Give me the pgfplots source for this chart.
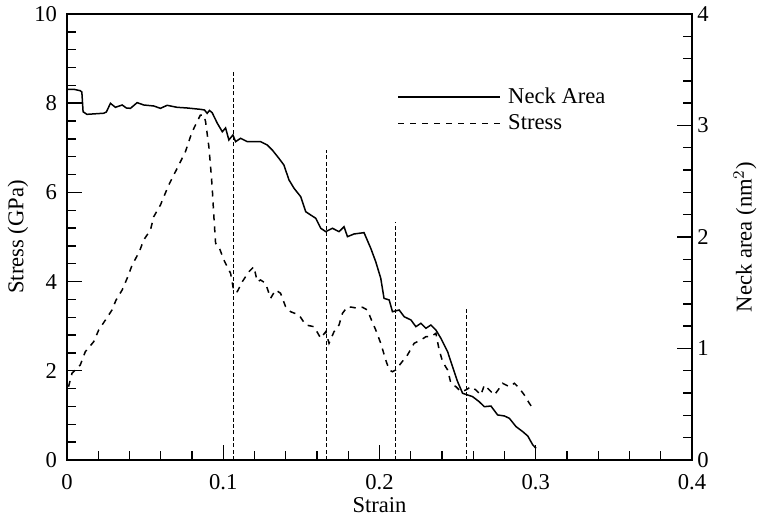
\documentclass[border=0pt]{standalone}
\usepackage{fontspec}
\setmainfont{Liberation Serif}
\usepackage{pgfplots}
\pgfplotsset{compat=1.18}
\begin{document}
\begin{tikzpicture}
\useasboundingbox (-33.5pt,-29.5pt) rectangle (345pt,230pt);
\pgfplotsset{
  common/.style={
    scale only axis, width=312.5pt, height=223pt,
    xmin=0, xmax=0.4,
    tick align=inside,
    major tick length=7.5pt, minor tick length=4.5pt,
    every tick/.style={black, line width=0.7pt},
    minor x tick num=4, minor y tick num=4,
    /pgf/number format/assume math mode=true,
    tick label style={font=\fontsize{11.3pt}{13pt}\selectfont},
    label style={font=\fontsize{11.3pt}{13pt}\selectfont},
    axis line style={line width=0.75pt},
  }
}
\begin{axis}[common,
  ymin=0, ymax=10,
  xtick={0,0.1,0.2,0.3,0.4},
  xticklabels={0,0.1,0.2,0.3,0.4},
  ytick={0,2,4,6,8,10},
  xtick pos=left, ytick pos=left,
  yticklabel style={xshift=-1.5pt},
  xticklabel style={yshift=-3.5pt},
  xlabel={Strain},
  ylabel={Stress (GPa)},
  xlabel style={at={(axis description cs:0.5,-0.1009)}, anchor=center},
  ylabel style={at={(axis description cs:-0.0784,0.5)}, anchor=center},
  legend style={draw=none, fill=none, at={(rel axis cs:0.5285,0.845)}, anchor=north west,
    inner sep=0pt, column sep=1.5pt, row sep=0.2pt,
    font=\fontsize{11.3pt}{13pt}\selectfont},
  legend cell align=left,
  legend image code/.code={\draw[#1] (0pt,0pt) -- (51pt,0pt);},
]
\addlegendimage{black, line width=0.75pt}
\addlegendentry{Neck Area}
\addplot[black, line width=0.75pt, dash pattern=on 3pt off 3pt] coordinates {
(0.0010,1.643) (0.0032,1.944) (0.0085,2.130) (0.0117,2.428) (0.0171,2.652)
(0.0203,2.915) (0.0246,3.139) (0.0288,3.363) (0.0314,3.587) (0.0353,3.812)
(0.0385,4.074) (0.0417,4.372) (0.0463,4.670) (0.0491,4.933) (0.0534,5.157)
(0.0555,5.455) (0.0598,5.717) (0.0651,6.166) (0.0694,6.464) (0.0726,6.688)
(0.0758,6.913) (0.0790,7.249) (0.0812,7.437) (0.0854,7.735) (0.0876,7.735)
(0.0887,7.585) (0.0908,7.025) (0.0919,6.576) (0.0929,6.128) (0.0940,5.455)
(0.0951,4.859) (0.0972,4.783) (0.1004,4.484) (0.1047,4.186) (0.1068,3.774)
(0.1090,3.774) (0.1122,3.998) (0.1164,4.222) (0.1196,4.334) (0.1218,3.998)
(0.1239,4.036) (0.1271,3.962) (0.1303,3.626) (0.1335,3.812) (0.1367,3.738)
(0.1399,3.437) (0.1431,3.325) (0.1485,3.251) (0.1528,3.027) (0.1581,2.989)
(0.1624,2.729) (0.1656,2.877) (0.1677,2.617) (0.1709,2.877) (0.1741,3.027)
(0.1763,3.289) (0.1795,3.437) (0.1827,3.424) (0.1859,3.401) (0.1891,3.424)
(0.1923,3.363) (0.1944,3.177) (0.1976,2.915) (0.2008,2.617) (0.2040,2.242)
(0.2062,2.018) (0.2083,1.980) (0.2104,2.018) (0.2137,2.168) (0.2179,2.354)
(0.2222,2.617) (0.2265,2.691) (0.2297,2.765) (0.2329,2.765) (0.2361,2.841)
(0.2382,2.466) (0.2404,2.204) (0.2436,2.018) (0.2457,1.720) (0.2489,1.643)
(0.2521,1.531) (0.2553,1.570) (0.2585,1.643) (0.2617,1.570) (0.2649,1.457)
(0.2671,1.682) (0.2703,1.570) (0.2735,1.457) (0.2767,1.608) (0.2788,1.720)
(0.2831,1.643) (0.2863,1.720) (0.2895,1.608) (0.2927,1.457) (0.2959,1.271)
(0.2981,1.159)
};
\addlegendentry{Stress}
\addplot[black, line width=0.55pt, dash pattern=on 2pt off 1.2pt, forget plot] coordinates {(0.1064,0) (0.1064,8.70)};
\addplot[black, line width=0.55pt, dash pattern=on 2pt off 1.2pt, forget plot] coordinates {(0.1660,0) (0.1660,6.95)};
\addplot[black, line width=0.55pt, dash pattern=on 2pt off 1.2pt, forget plot] coordinates {(0.2100,0) (0.2100,5.34)};
\addplot[black, line width=0.55pt, dash pattern=on 2pt off 1.2pt, forget plot] coordinates {(0.2558,0) (0.2558,3.44)};
\end{axis}
\begin{axis}[common,
  ymin=0, ymax=4,
  axis x line=none,
  axis y line*=right,
  ytick={0,1,2,3,4},
  yticklabel style={xshift=-0.8pt},
  ylabel={Neck area (nm$^2$)},
  ylabel style={at={(axis description cs:1.0848,0.5)}, anchor=center, rotate=0},
]
\addplot[black, line width=0.75pt] coordinates {
(0.0004,3.325) (0.0042,3.325) (0.0085,3.312) (0.0095,3.300) (0.0103,3.123)
(0.0128,3.100) (0.0235,3.110) (0.0252,3.121) (0.0278,3.199) (0.0310,3.163)
(0.0353,3.184) (0.0380,3.157) (0.0406,3.154) (0.0449,3.205) (0.0491,3.184)
(0.0555,3.175) (0.0598,3.154) (0.0641,3.181) (0.0705,3.163) (0.0769,3.157)
(0.0854,3.145) (0.0880,3.139) (0.0897,3.109) (0.0912,3.135) (0.0929,3.115)
(0.0962,3.020) (0.0994,2.944) (0.1015,2.978) (0.1036,2.870) (0.1062,2.915)
(0.1079,2.855) (0.1111,2.885) (0.1154,2.855) (0.1196,2.855) (0.1239,2.855)
(0.1282,2.825) (0.1314,2.780) (0.1356,2.706) (0.1388,2.646) (0.1421,2.511)
(0.1453,2.437) (0.1496,2.361) (0.1528,2.227) (0.1560,2.197) (0.1592,2.168)
(0.1624,2.078) (0.1656,2.048) (0.1699,2.078) (0.1741,2.048) (0.1773,2.092)
(0.1795,2.003) (0.1837,2.027) (0.1901,2.039) (0.1944,1.899) (0.1976,1.778)
(0.2008,1.630) (0.2029,1.450) (0.2062,1.435) (0.2083,1.330) (0.2126,1.345)
(0.2158,1.285) (0.2201,1.256) (0.2233,1.196) (0.2265,1.226) (0.2297,1.181)
(0.2329,1.211) (0.2361,1.166) (0.2393,1.091) (0.2436,0.971) (0.2478,0.792)
(0.2500,0.702) (0.2532,0.598) (0.2564,0.583) (0.2596,0.568) (0.2638,0.523)
(0.2671,0.478) (0.2713,0.484) (0.2756,0.404) (0.2799,0.395) (0.2831,0.374)
(0.2874,0.299) (0.2917,0.254) (0.2949,0.215) (0.2981,0.135) (0.3002,0.105)
};
\end{axis}
\end{tikzpicture}
\end{document}
